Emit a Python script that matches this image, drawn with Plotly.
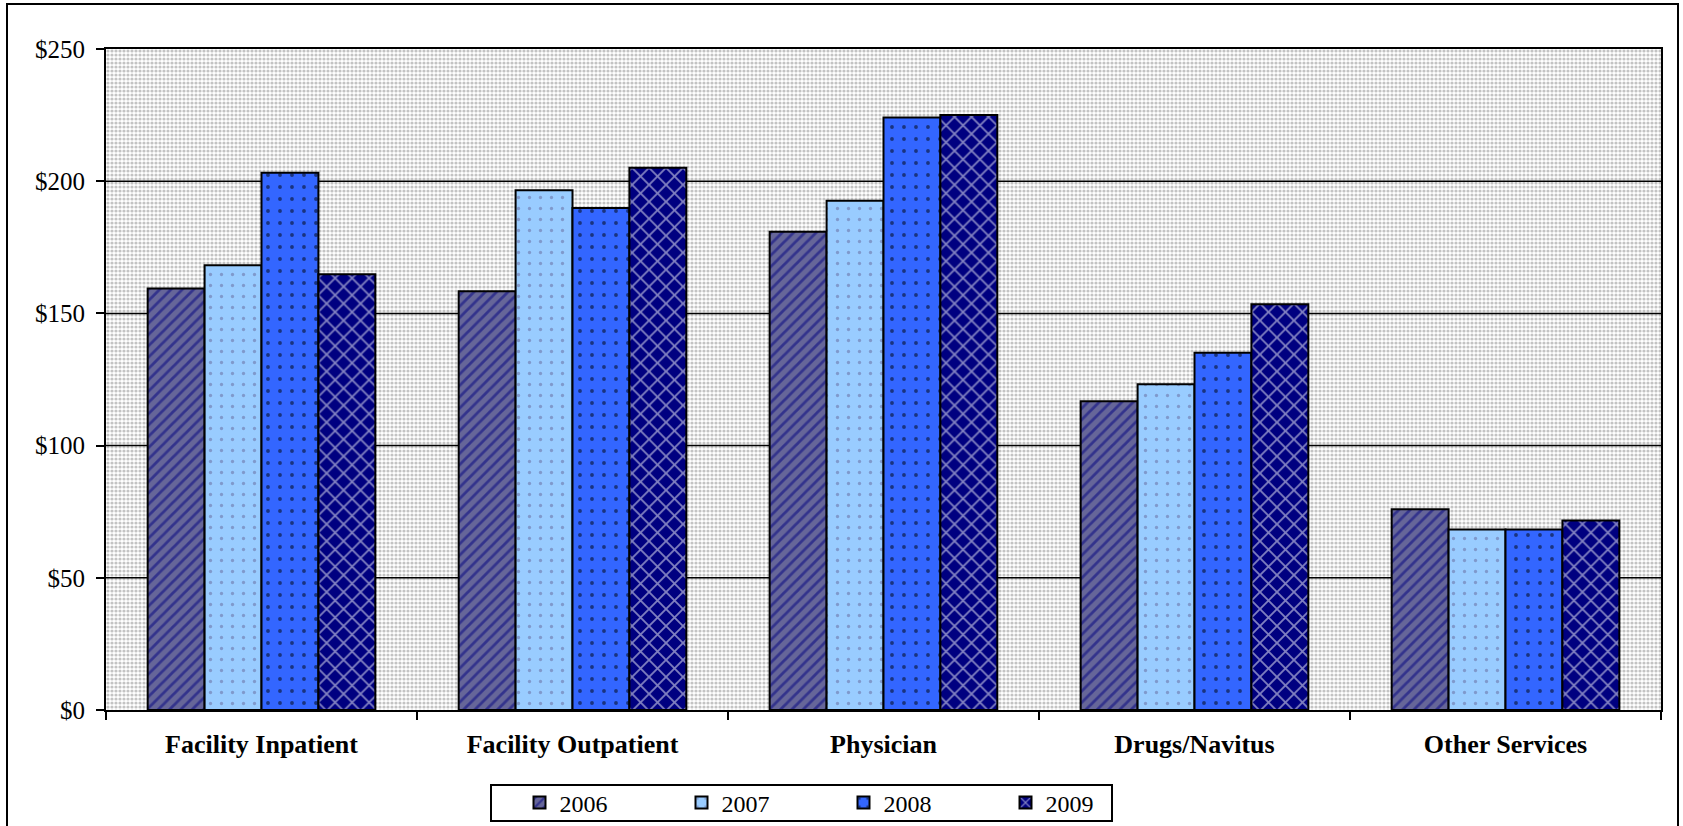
import plotly.graph_objects as go

# Spending per member by service category and year
categories = ["Facility Inpatient", "Facility Outpatient", "Physician", "Drugs/Navitus", "Other Services"]
years = ["2006", "2007", "2008", "2009"]
values_2006 = [159.4, 158.4, 180.9, 116.8, 75.9]
values_2007 = [168.2, 196.6, 192.6, 123.2, 68.3]
values_2008 = [203.2, 189.9, 224.1, 135.1, 68.3]
values_2009 = [164.8, 205.1, 225.0, 153.5, 71.7]
series_values = [values_2006, values_2007, values_2008, values_2009]

y_tick_vals = [0, 50, 100, 150, 200, 250]
y_tick_text = ["$0", "$50", "$100", "$150", "$200", "$250"]

# Fill colour and hatch style per year
bar_styles = [
    dict(color="#666699", pattern=dict(shape="/", fgcolor="#000080", bgcolor="#666699", size=8, solidity=0.35)),
    dict(color="#99CCFF", pattern=dict(shape=".", fgcolor="#666699", bgcolor="#99CCFF", size=11, solidity=0.07)),
    dict(color="#3366FF", pattern=dict(shape=".", fgcolor="#000000", bgcolor="#3366FF", size=12, solidity=0.08)),
    dict(color="#000080", pattern=dict(shape="x", fgcolor="#FFFFFF", bgcolor="#000080", size=12, solidity=0.28)),
]

W, H = 1683, 826
L, R, T, B = 106, 22, 49, 116
plot_w = W - L - R
plot_h = H - T - B


def px_x(px):
    return (px - L) / plot_w


def px_y(py):
    return (H - B - py) / plot_h


fig = go.Figure()

# Dotted grey backdrop filling the plotting area
fig.add_trace(go.Bar(
    x=[0.5], y=[y_tick_vals[-1]], width=[1.0],
    xaxis="x", yaxis="y",
    marker=dict(color="#FFFFFF", line=dict(width=0),
                pattern=dict(shape=".", fgcolor="#888888", bgcolor="#FFFFFF", size=4, solidity=0.5)),
    showlegend=False, hoverinfo="skip",
))

# Horizontal gridlines over the backdrop, behind the bars
gx, gy = [], []
for v in y_tick_vals[1:-1]:
    gx += [0, 1, None]
    gy += [v, v, None]
fig.add_trace(go.Scatter(
    x=gx, y=gy, mode="lines", xaxis="x", yaxis="y",
    line=dict(color="#000000", width=1.5),
    showlegend=False, hoverinfo="skip",
))

for year, vals, style in zip(years, series_values, bar_styles):
    fig.add_trace(go.Bar(
        name=year, x=categories, y=vals,
        xaxis="x2", yaxis="y2",
        marker=dict(color=style["color"], pattern=style["pattern"],
                    line=dict(color="#000000", width=2)),
    ))

serif = "Liberation Serif"

fig.update_layout(
    width=W, height=H,
    margin=dict(l=L, r=R, t=T, b=B, pad=0, autoexpand=False),
    paper_bgcolor="#FFFFFF",
    plot_bgcolor="#FFFFFF",
    font=dict(family=serif, color="#000000", size=24),
    barmode="group",
    bargap=0.268,
    bargroupgap=0.0,
    xaxis=dict(range=[0, 1], visible=False, fixedrange=True, automargin=False),
    yaxis=dict(
        range=[0, 250], tickvals=y_tick_vals, ticktext=y_tick_text,
        ticks="outside", ticklen=8, tickwidth=1.5, tickcolor="#000000",
        showline=True, linecolor="#000000", linewidth=2, mirror=True,
        showgrid=False, zeroline=False, automargin=False,
        tickfont=dict(family=serif, size=25, color="#000000"),
        ticklabelstandoff=6,
    ),
    xaxis2=dict(
        overlaying="x", anchor="y", type="category",
        categoryorder="array", categoryarray=categories,
        tickson="boundaries", ticks="outside", ticklen=8, tickwidth=1.5,
        tickcolor="#000000",
        showline=True, linecolor="#000000", linewidth=2, mirror=True,
        showgrid=False, zeroline=False, automargin=False,
        tickfont=dict(family=serif, size=26, color="#000000", weight="bold"),
        ticklabelstandoff=10,
    ),
    yaxis2=dict(overlaying="y", range=[0, 250], visible=False, showgrid=False),
    legend=dict(
        orientation="h",
        x=px_x(519.5), xanchor="left",
        y=px_y(803), yanchor="middle",
        borderwidth=0, bgcolor="rgba(0,0,0,0)",
        font=dict(family=serif, size=24, color="#000000"),
        entrywidth=117, entrywidthmode="pixels",
        itemwidth=30, traceorder="normal",
    ),
    shapes=[
        # outer frame around the whole chart
        dict(type="rect", xref="paper", yref="paper",
             x0=px_x(7), x1=px_x(1678), y0=px_y(830), y1=px_y(4),
             line=dict(color="#000000", width=2), fillcolor="rgba(0,0,0,0)",
             layer="above"),
        # legend box
        dict(type="rect", xref="paper", yref="paper",
             x0=px_x(491), x1=px_x(1112), y0=px_y(821), y1=px_y(785),
             line=dict(color="#000000", width=2), fillcolor="#FFFFFF",
             layer="below"),
    ],
)

fig.write_html("out.html")
